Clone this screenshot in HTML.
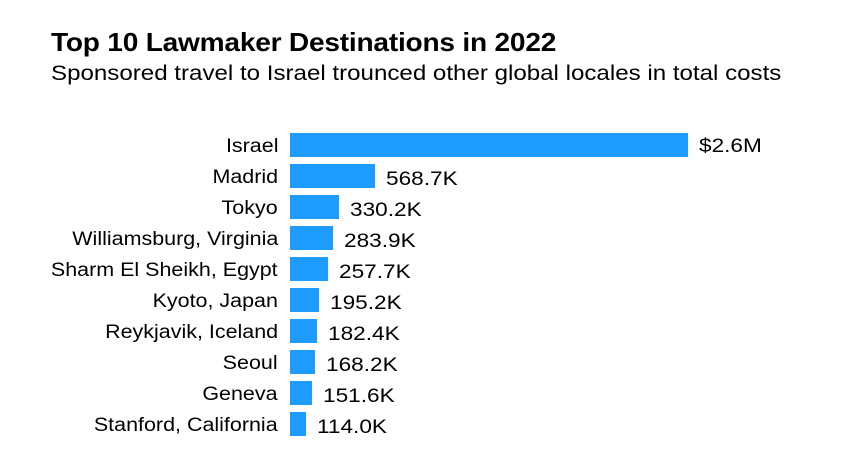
<!DOCTYPE html>
<html><head><style>
body{margin:0;width:852px;height:458px;background:#fff;font-family:"Liberation Sans",sans-serif;color:#000;position:relative;overflow:hidden}
.t{position:absolute;left:51px;top:27px;font-size:26px;font-weight:bold;letter-spacing:-0.2px;transform:scaleX(1.08);transform-origin:left;white-space:nowrap}
.s{position:absolute;left:51px;top:62px;font-size:21px;transform:scaleX(1.148);transform-origin:left;white-space:nowrap}
.r{position:absolute;left:0;height:24px;width:852px}
.l{position:absolute;right:574px;top:2px;line-height:24px;font-size:19px;white-space:nowrap;transform:scaleX(1.13);transform-origin:right}
.b{position:absolute;left:290px;top:0;height:24px;background:#1e9bff}
.v{position:absolute;top:4px;line-height:24px;font-size:19px;white-space:nowrap;transform:scaleX(1.19);transform-origin:left}
</style></head><body>
<div class="t">Top 10 Lawmaker Destinations in 2022</div>
<div class="s">Sponsored travel to Israel trounced other global locales in total costs</div>
<div class="r" style="top:133px"><div class="l">Israel</div><div class="b" style="width:398px"></div><div class="v" style="left:699px;top:2px">$2.6M</div></div>
<div class="r" style="top:164px"><div class="l">Madrid</div><div class="b" style="width:85px"></div><div class="v" style="left:386px">568.7K</div></div>
<div class="r" style="top:195px"><div class="l">Tokyo</div><div class="b" style="width:49px"></div><div class="v" style="left:350px">330.2K</div></div>
<div class="r" style="top:226px"><div class="l">Williamsburg, Virginia</div><div class="b" style="width:43px"></div><div class="v" style="left:344px">283.9K</div></div>
<div class="r" style="top:257px"><div class="l">Sharm El Sheikh, Egypt</div><div class="b" style="width:38px"></div><div class="v" style="left:339px">257.7K</div></div>
<div class="r" style="top:288px"><div class="l">Kyoto, Japan</div><div class="b" style="width:29px"></div><div class="v" style="left:330px">195.2K</div></div>
<div class="r" style="top:319px"><div class="l">Reykjavik, Iceland</div><div class="b" style="width:27px"></div><div class="v" style="left:328px">182.4K</div></div>
<div class="r" style="top:350px"><div class="l">Seoul</div><div class="b" style="width:25px"></div><div class="v" style="left:326px">168.2K</div></div>
<div class="r" style="top:381px"><div class="l">Geneva</div><div class="b" style="width:22px"></div><div class="v" style="left:323px">151.6K</div></div>
<div class="r" style="top:412px"><div class="l">Stanford, California</div><div class="b" style="width:16px"></div><div class="v" style="left:317px">114.0K</div></div>
</body></html>
